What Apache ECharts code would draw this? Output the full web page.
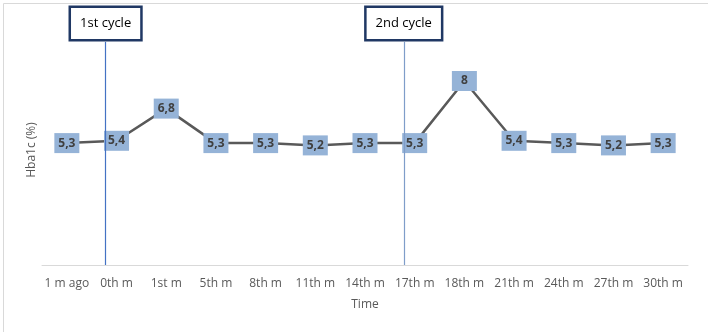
<!DOCTYPE html>
<html lang="en" style="height: 100%">
<head>
    <meta charset="UTF-8">
    <title>Hba1c</title>
    <script src="https://cdn.jsdelivr.net/npm/echarts@6/dist/echarts.min.js"></script>
</head>
<body style="height: 100%; margin: 0; background: #fff">
    <div id="main" style="width: 708px; height: 332px"></div>
    <script>
        var months = ['1 m ago', '0th m', '1st m', '5th m', '8th m', '11th m', '14th m',
            '17th m', '18th m', '21th m', '24th m', '27th m', '30th m'];
        var hba1c = [5.3, 5.4, 6.8, 5.3, 5.3, 5.2, 5.3, 5.3, 8, 5.4, 5.3, 5.2, 5.3];
        // cycle start markers (category index, slightly left of the point)
        var cycleNames = ['1st cycle', '2nd cycle'];
        var cycleAt = [0.78, 6.78];
        var cycleColors = ['#4472c4', '#7f9dc9'];

        var chart = echarts.init(document.getElementById('main'));

        var fontFam = '"Open Sans", "Noto Sans", sans-serif';

        // one empty series per cycle, only carrying its vertical marker line
        function cycleSeries(i) {
            return {
                type: 'line',
                xAxisIndex: 1,
                data: [],
                color: cycleColors[i],
                itemStyle: { color: cycleColors[i] },
                z: 2,
                markLine: {
                    silent: true,
                    symbol: ['none', 'none'],
                    lineStyle: { color: cycleColors[i], width: 1.2, type: 'solid', opacity: 1 },
                    label: {
                        position: 'end',
                        distance: 3,
                        formatter: cycleNames[i],
                        color: '#000',
                        fontSize: 13,
                        backgroundColor: '#fff',
                        borderColor: '#203864',
                        borderWidth: 2.5,
                        padding: [9, 9]
                    },
                    data: [[{ coord: [cycleAt[i], 0] }, { coord: [cycleAt[i], 9.7] }]]
                }
            };
        }

        var option = {
            animation: false,
            textStyle: { fontFamily: fontFam },
            graphic: [{
                type: 'rect',
                left: 1, top: 1,
                shape: { width: 705, height: 329 },
                style: { fill: 'none', stroke: '#d9d9d9', lineWidth: 1 },
                silent: true
            }],
            grid: { left: 42, right: 20, top: 35, bottom: 67 },
            xAxis: [{
                type: 'category',
                data: months,
                name: 'Time',
                nameLocation: 'middle',
                nameGap: 34,
                nameTextStyle: { color: '#595959', fontSize: 12 },
                axisLine: { lineStyle: { color: '#d9d9d9' } },
                axisTick: { show: false },
                axisLabel: { color: '#595959', fontSize: 12, margin: 13, interval: 0 }
            }, {
                type: 'value',
                min: -0.5,
                max: 12.5,
                show: false
            }],
            yAxis: {
                type: 'value',
                min: 0,
                max: 10,
                name: 'Hba1c (%)',
                nameLocation: 'middle',
                nameGap: 4,
                nameTextStyle: { color: '#595959', fontSize: 12 },
                axisLine: { show: false },
                axisTick: { show: false },
                axisLabel: { show: false },
                splitLine: { show: false }
            },
            series: [{
                type: 'line',
                data: hba1c,
                symbol: 'rect',
                symbolSize: 1,
                showSymbol: true,
                itemStyle: { color: '#95b3d7' },
                lineStyle: { color: '#595959', width: 2.5 },
                label: {
                    show: true,
                    position: 'inside',
                    formatter: function (p) { return String(p.value).replace('.', ','); },
                    backgroundColor: '#95b3d7',
                    color: '#404040',
                    fontWeight: 'bold',
                    fontSize: 12,
                    width: 17,
                    height: 12,
                    lineHeight: 12,
                    align: 'center',
                    verticalAlign: 'middle',
                    padding: [4, 4]
                },
                z: 3
            }, cycleSeries(0), cycleSeries(1)]
        };
        chart.setOption(option);
    </script>
</body>
</html>
